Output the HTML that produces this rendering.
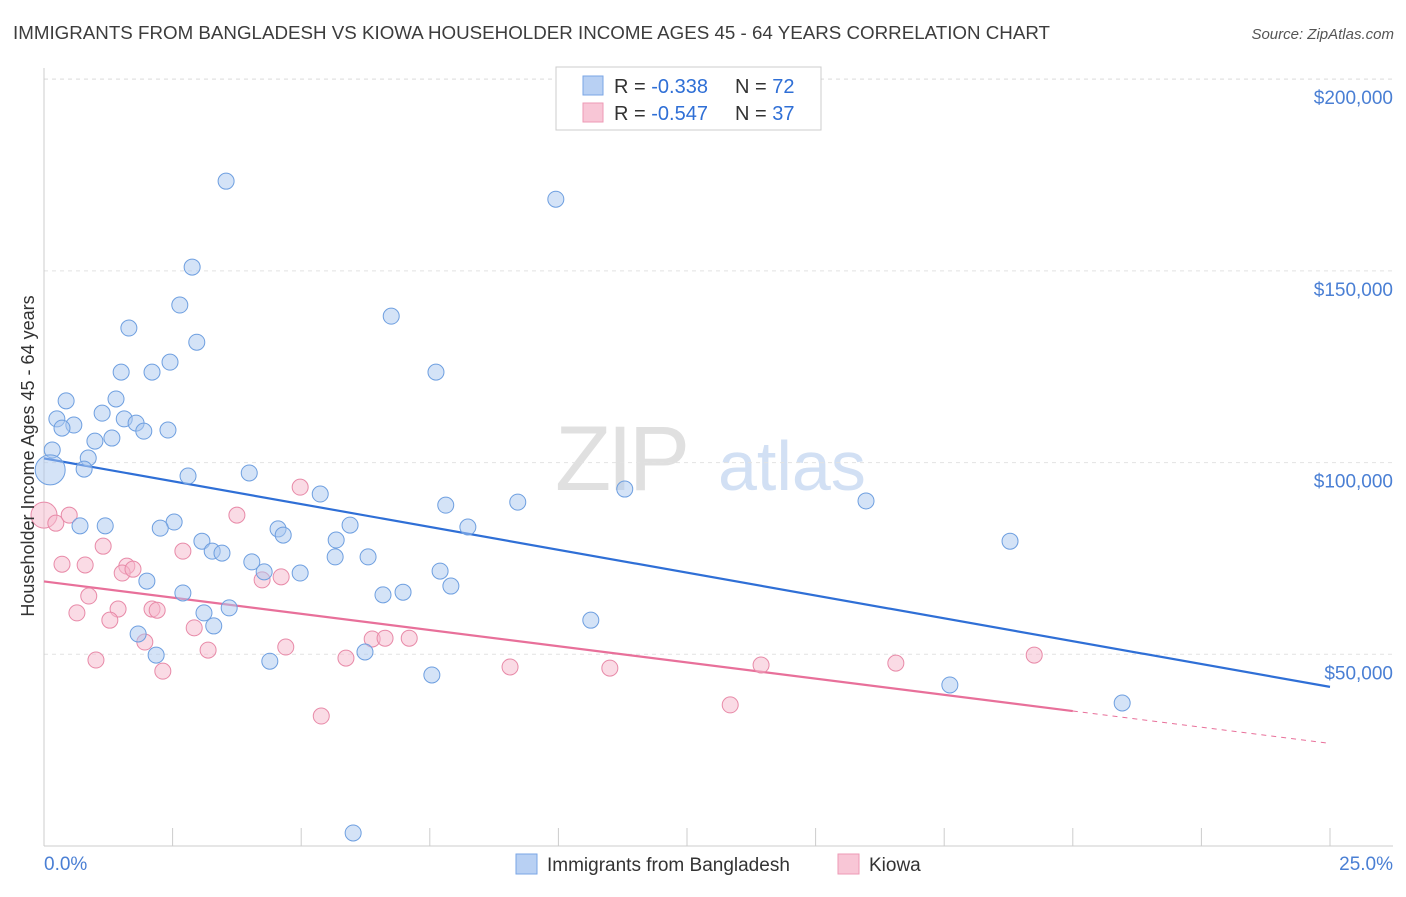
<!DOCTYPE html>
<html><head><meta charset="utf-8"><style>
body{margin:0;background:#fff;font-family:"Liberation Sans",sans-serif;}
svg text{font-family:"Liberation Sans",sans-serif;}
</style></head><body>
<svg id="chart" width="1406" height="892" viewBox="0 0 1406 892" xmlns="http://www.w3.org/2000/svg">
<text x="13" y="39" font-size="18" fill="#3c3c3c" textLength="1037" lengthAdjust="spacingAndGlyphs">IMMIGRANTS FROM BANGLADESH VS KIOWA HOUSEHOLDER INCOME AGES 45 - 64 YEARS CORRELATION CHART</text>
<text x="1394" y="39" font-size="15" fill="#555" text-anchor="end" font-style="italic">Source: ZipAtlas.com</text>
<g>
<text x="555" y="490" font-size="92" fill="#e0e0e0" font-family="Liberation Serif" letter-spacing="-4">ZIP</text>
<text x="718" y="490" font-size="70" fill="#d2e0f4">atlas</text>
</g>
<g id="grid"></g>
<g id="axes"></g>
<g id="trends"></g>
<g id="points"></g>
<text transform="translate(34,456) rotate(-90)" font-size="18" fill="#333" text-anchor="middle">Householder Income Ages 45 - 64 years</text>
<g>
<rect x="556" y="67" width="265" height="63" fill="#fff" stroke="#ccc"/>
<rect x="583" y="76" width="20" height="19" fill="#b8d0f3" stroke="#7aa6e6"/>
<text x="614" y="93" font-size="20" fill="#333">R = <tspan fill="#2f6fd6">-0.338</tspan></text>
<text x="735" y="93" font-size="20" fill="#333">N = <tspan fill="#2f6fd6">72</tspan></text>
<rect x="583" y="103" width="20" height="19" fill="#f8c6d6" stroke="#ee9ab5"/>
<text x="614" y="120" font-size="20" fill="#333">R = <tspan fill="#2f6fd6">-0.547</tspan></text>
<text x="735" y="120" font-size="20" fill="#333">N = <tspan fill="#2f6fd6">37</tspan></text>
</g>
<g>
<rect x="516" y="854" width="21" height="20" fill="#b8d0f3" stroke="#7aa6e6"/>
<text x="547" y="871" font-size="19" fill="#333">Immigrants from Bangladesh</text>
<rect x="838" y="854" width="21" height="20" fill="#f8c6d6" stroke="#ee9ab5"/>
<text x="869" y="871" font-size="19" fill="#333">Kiowa</text>
</g>
</svg>
<script>
const yTicks=[50000,100000,150000,200000];
const yTickLabels=["$50,000","$100,000","$150,000","$200,000"];
const xTickLabels=["0.0%","25.0%"];
const blueX=[3.54,9.95,2.88,2.64,6.75,1.65,2.97,2.45,1.50,2.10,7.62,0.43,1.40,0.25,1.13,1.56,0.58,0.35,1.79,1.94,2.41,0.99,1.32,0.16,0.86,0.12,0.78,2.80,3.99,11.29,5.37,7.81,9.21,15.98,2.53,1.19,0.70,2.26,5.95,8.24,4.55,4.65,5.68,3.07,3.27,3.46,18.78,4.04,5.66,6.30,4.28,4.98,7.70,2.00,7.91,2.70,6.98,6.59,3.11,3.60,3.30,10.63,1.83,2.18,6.24,4.39,7.54,17.61,20.96,6.01];
const blueY=[173400,168700,151000,141100,138200,135100,131400,126200,123600,123600,123600,116100,116600,111400,112900,111400,109800,109000,110300,108200,108500,105600,106400,103300,101200,98100,98300,96500,97300,93100,91800,88900,89700,90000,84500,83500,83500,82900,83700,83200,82700,81100,79800,79500,76900,76400,79500,74100,75400,75400,71500,71200,71700,69100,67800,66000,66200,65500,60800,62100,57400,58900,55300,49800,50600,48200,44600,42000,37300,3400];
const pinkX=[0,0.23,0.49,4.98,3.75,1.15,2.70,0.35,0.80,1.61,1.52,1.73,4.61,4.24,0.87,1.44,0.64,2.10,2.20,1.28,2.92,3.19,1.96,6.38,6.63,7.10,4.70,1.01,2.31,5.87,9.06,11.00,13.94,16.56,19.25,5.39,13.34];
const pinkY=[86300,84200,86300,93600,86300,78200,76900,73500,73300,73000,71200,72200,70200,69400,65200,61800,60800,61800,61500,58900,56900,51100,53200,54000,54200,54200,51900,48500,45600,49000,46700,46400,47200,47700,49800,33900,36800];
const blueTrend=[101100,-2384];
const pinkTrend=[69000,-1690];
const pinkSolidEnd=20;
const NS="http://www.w3.org/2000/svg";
const X0=44,X1=1330,Y0=846,PXPER=191.7/50000;
function sx(v){return X0+(X1-X0)*v/25;}
function sy(v){return Y0-v*PXPER;}
function mk(tag,attrs,parent){const e=document.createElementNS(NS,tag);for(const k in attrs)e.setAttribute(k,attrs[k]);parent.appendChild(e);return e;}
const grid=document.getElementById('grid'),axes=document.getElementById('axes'),trends=document.getElementById('trends'),pts=document.getElementById('points');
mk('line',{x1:44,y1:79,x2:1393,y2:79,stroke:'#e2e2e2','stroke-dasharray':'4,4'},grid);
yTicks.forEach((t,i)=>{
  const g=mk('line',{x1:44,y1:sy(t),x2:1393,y2:sy(t),stroke:'#e2e2e2','stroke-dasharray':'4,4'},grid);
  
  
  const l=mk('text',{x:1393,y:sy(t)+25,'font-size':19,fill:'#4a7fd4','text-anchor':'end'},axes);
  l.textContent=yTickLabels[i];
  
  
});
mk('line',{x1:44,y1:68,x2:44,y2:846,stroke:'#ccc'},axes);
mk('line',{x1:44,y1:846,x2:1393,y2:846,stroke:'#ccc'},axes);
for(let i=0;i<=10;i++){const t=mk('line',{x1:sx(i*2.5),y1:828,x2:sx(i*2.5),y2:846,stroke:'#ccc'},axes);}
const xl0=mk('text',{x:44,y:870,'font-size':19,fill:'#4a7fd4'},axes);xl0.textContent=xTickLabels[0];


const xl1=mk('text',{x:1393,y:870,'font-size':19,fill:'#4a7fd4','text-anchor':'end'},axes);xl1.textContent=xTickLabels[1];


function drawPts(xs,ys,fill,stroke,name){
  xs.forEach((x,i)=>{
    const r=(i===0&&name==='kiowa-point')?13:(name==='bangladesh-point'&&i===25?15:8);
    const c=mk('circle',{cx:sx(x),cy:sy(ys[i]),r:r,fill:fill,'fill-opacity':0.5,stroke:stroke,'stroke-width':1},pts);
    
    
  });
}
drawPts(pinkX,pinkY,'#f5b8cb','#e88aa8','kiowa-point');
drawPts(blueX,blueY,'#aac8f0','#6e9fe0','bangladesh-point');
const bt=mk('line',{x1:sx(0),y1:sy(blueTrend[0]),x2:sx(25),y2:sy(blueTrend[0]+25*blueTrend[1]),stroke:'#2f6fd6','stroke-width':2.2},trends);


const pt=mk('line',{x1:sx(0),y1:sy(pinkTrend[0]),x2:sx(pinkSolidEnd),y2:sy(pinkTrend[0]+pinkSolidEnd*pinkTrend[1]),stroke:'#e8709a','stroke-width':2.2},trends);


const pd=mk('line',{x1:sx(pinkSolidEnd),y1:sy(pinkTrend[0]+pinkSolidEnd*pinkTrend[1]),x2:sx(25),y2:sy(pinkTrend[0]+25*pinkTrend[1]),stroke:'#e8709a','stroke-width':1,'stroke-dasharray':'5,5'},trends);


</script>
</body></html>
